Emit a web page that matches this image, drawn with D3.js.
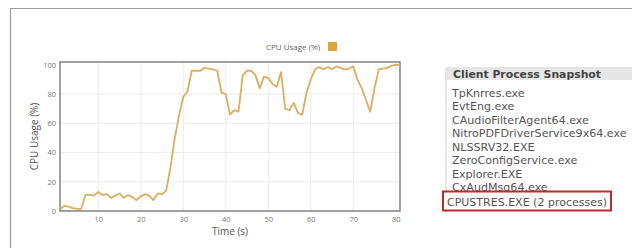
<!DOCTYPE html>
<html>
<head>
<meta charset="utf-8">
<script src="https://cdnjs.cloudflare.com/ajax/libs/d3/7.8.5/d3.min.js"></script>
<style>
  body { margin: 0; background: #fff; }
  svg { display: block; }
</style>
</head>
<body>
<svg id="chart" width="632" height="248"></svg>
<script>
// time in seconds
let seconds = d3.range(1, 82);
// CPU usage (%), one value per second
let cpuUsage = [
    1, 3.5, 3, 2, 1.5, 1.5, 11, 11, 10.5, 13,
    11, 11.5, 9, 10.5, 12, 9, 11, 9.5, 7.5, 10,
    11.5, 10.5, 7.5, 12, 11.5, 14, 30, 50, 65, 78,
    82, 96, 96, 96, 98, 97.5, 97, 96, 81, 80,
    66, 69, 68, 93, 96, 96, 93, 84, 92, 91,
    87, 85, 95, 70, 69, 74, 67, 66, 81, 90,
    97, 98.5, 97, 98.5, 97, 99, 98, 97, 97.5, 99,
    90, 84, 76, 68, 84, 97, 97.5, 98, 99.5, 100,
    100
];
let xTicks = [10, 20, 30, 40, 50, 60, 70, 80];
let yTicks = [0, 20, 40, 60, 80, 100];
let processes = [
    "TpKnrres.exe",
    "EvtEng.exe",
    "CAudioFilterAgent64.exe",
    "NitroPDFDriverService9x64.exe",
    "NLSSRV32.EXE",
    "ZeroConfigService.exe",
    "Explorer.EXE",
    "CxAudMsg64.exe",
    "CPUSTRES.EXE (2 processes)"
];
let highlighted = "CPUSTRES.EXE (2 processes)";

let lineColor = "#dcae60";
let chartFont = "'Open Sans', sans-serif";
let listFont = "'DejaVu Sans', sans-serif";

let plot = { left: 60, right: 400, top: 62, bottom: 211 };

let svg = d3.select("#chart");

// outer panel frame
svg.append("path")
    .attr("d", "M10.5,248 V8.5 H632")
    .attr("fill", "none")
    .attr("stroke", "#9a9a9a")
    .attr("stroke-width", 1.2);

let x = d3.scaleLinear().domain([1, 81]).range([plot.left, plot.right]);
let y = d3.scaleLinear().domain([0, 102]).range([plot.bottom, plot.top]);

// grid
svg.append("g")
    .selectAll("line")
    .data(xTicks)
    .enter()
    .append("line")
    .attr("x1", d => x(d)).attr("x2", d => x(d))
    .attr("y1", plot.top).attr("y2", plot.bottom)
    .attr("stroke", "#ececec");

svg.append("g")
    .selectAll("line")
    .data(yTicks.filter(d => d > 0 && d < 100))
    .enter()
    .append("line")
    .attr("x1", plot.left).attr("x2", plot.right)
    .attr("y1", d => y(d)).attr("y2", d => y(d))
    .attr("stroke", "#ececec");

// axes (labels only, frame drawn separately)
let xAxis = svg.append("g")
    .attr("transform", `translate(0,${plot.bottom})`)
    .call(d3.axisBottom(x).tickValues(xTicks).tickSize(0).tickPadding(6));
let yAxis = svg.append("g")
    .attr("transform", `translate(${plot.left},0)`)
    .call(d3.axisLeft(y).tickValues(yTicks).tickSize(0).tickPadding(4));

[xAxis, yAxis].forEach(function(a) {
    a.select(".domain").remove();
    a.selectAll("text")
        .attr("fill", "#777")
        .style("font-family", chartFont)
        .style("font-size", "7.5px");
});

// plot frame
svg.append("rect")
    .attr("x", plot.left)
    .attr("y", plot.top)
    .attr("width", plot.right - plot.left)
    .attr("height", plot.bottom - plot.top)
    .attr("fill", "none")
    .attr("stroke", "#7a7a7a")
    .attr("stroke-width", 1.4);

// data line
let line = d3.line()
    .x((d, i) => x(seconds[i]))
    .y(d => y(d));

svg.append("path")
    .datum(cpuUsage)
    .attr("d", line)
    .attr("fill", "none")
    .attr("stroke", lineColor)
    .attr("stroke-width", 1.8)
    .attr("stroke-linejoin", "round");

// axis titles
svg.append("text")
    .attr("x", (plot.left + plot.right) / 2)
    .attr("y", 235)
    .attr("text-anchor", "middle")
    .attr("fill", "#555")
    .style("font-family", chartFont)
    .style("font-size", "10px")
    .text("Time (s)");

svg.append("text")
    .attr("transform", `translate(38,${(plot.top + plot.bottom) / 2}) rotate(-90)`)
    .attr("text-anchor", "middle")
    .attr("fill", "#555")
    .style("font-family", chartFont)
    .style("font-size", "10px")
    .text("CPU Usage (%)");

// legend
svg.append("text")
    .attr("x", 320)
    .attr("y", 50)
    .attr("text-anchor", "end")
    .attr("fill", "#666")
    .style("font-family", chartFont)
    .style("font-size", "8px")
    .text("CPU Usage (%)");
svg.append("rect")
    .attr("x", 328).attr("y", 42)
    .attr("width", 9).attr("height", 9)
    .attr("fill", "#daa53c");

// process snapshot panel
let list = svg.append("g").attr("transform", "translate(445,0)");

list.append("rect")
    .attr("x", 0).attr("y", 67)
    .attr("width", 190).attr("height", 13)
    .attr("fill", "#e6e6e6");

list.append("text")
    .attr("x", 8).attr("y", 77.5)
    .attr("fill", "#444")
    .attr("textLength", 148)
    .attr("lengthAdjust", "spacingAndGlyphs")
    .style("font-family", listFont)
    .style("font-weight", "bold")
    .style("font-size", "10.5px")
    .text("Client Process Snapshot");

list.append("line")
    .attr("x1", 1).attr("x2", 1)
    .attr("y1", 80).attr("y2", 213)
    .attr("stroke", "#cfcfcf");

let rowY = d3.scaleLinear().domain([0, 1]).range([96.5, 110]);
let hi = processes.indexOf(highlighted);

list.selectAll("text.proc")
    .data(processes.filter(d => d !== highlighted))
    .enter()
    .append("text")
    .attr("class", "proc")
    .attr("x", 7)
    .attr("y", (d, i) => rowY(i))
    .attr("fill", "#555")
    .style("font-family", listFont)
    .style("font-size", "11.1px")
    .text(d => d);

// highlight box for the stress process (covers the row above a little)
list.append("rect")
    .attr("x", -2).attr("y", rowY(hi) - 13)
    .attr("width", 168).attr("height", 19)
    .attr("fill", "#fff")
    .attr("stroke", "#c1272d")
    .attr("stroke-width", 2);
list.append("text")
    .attr("x", 2)
    .attr("y", rowY(hi) + 1.5)
    .attr("fill", "#555")
    .attr("textLength", 160)
    .attr("lengthAdjust", "spacingAndGlyphs")
    .style("font-family", listFont)
    .style("font-size", "11.1px")
    .text(highlighted);
</script>
</body>
</html>
